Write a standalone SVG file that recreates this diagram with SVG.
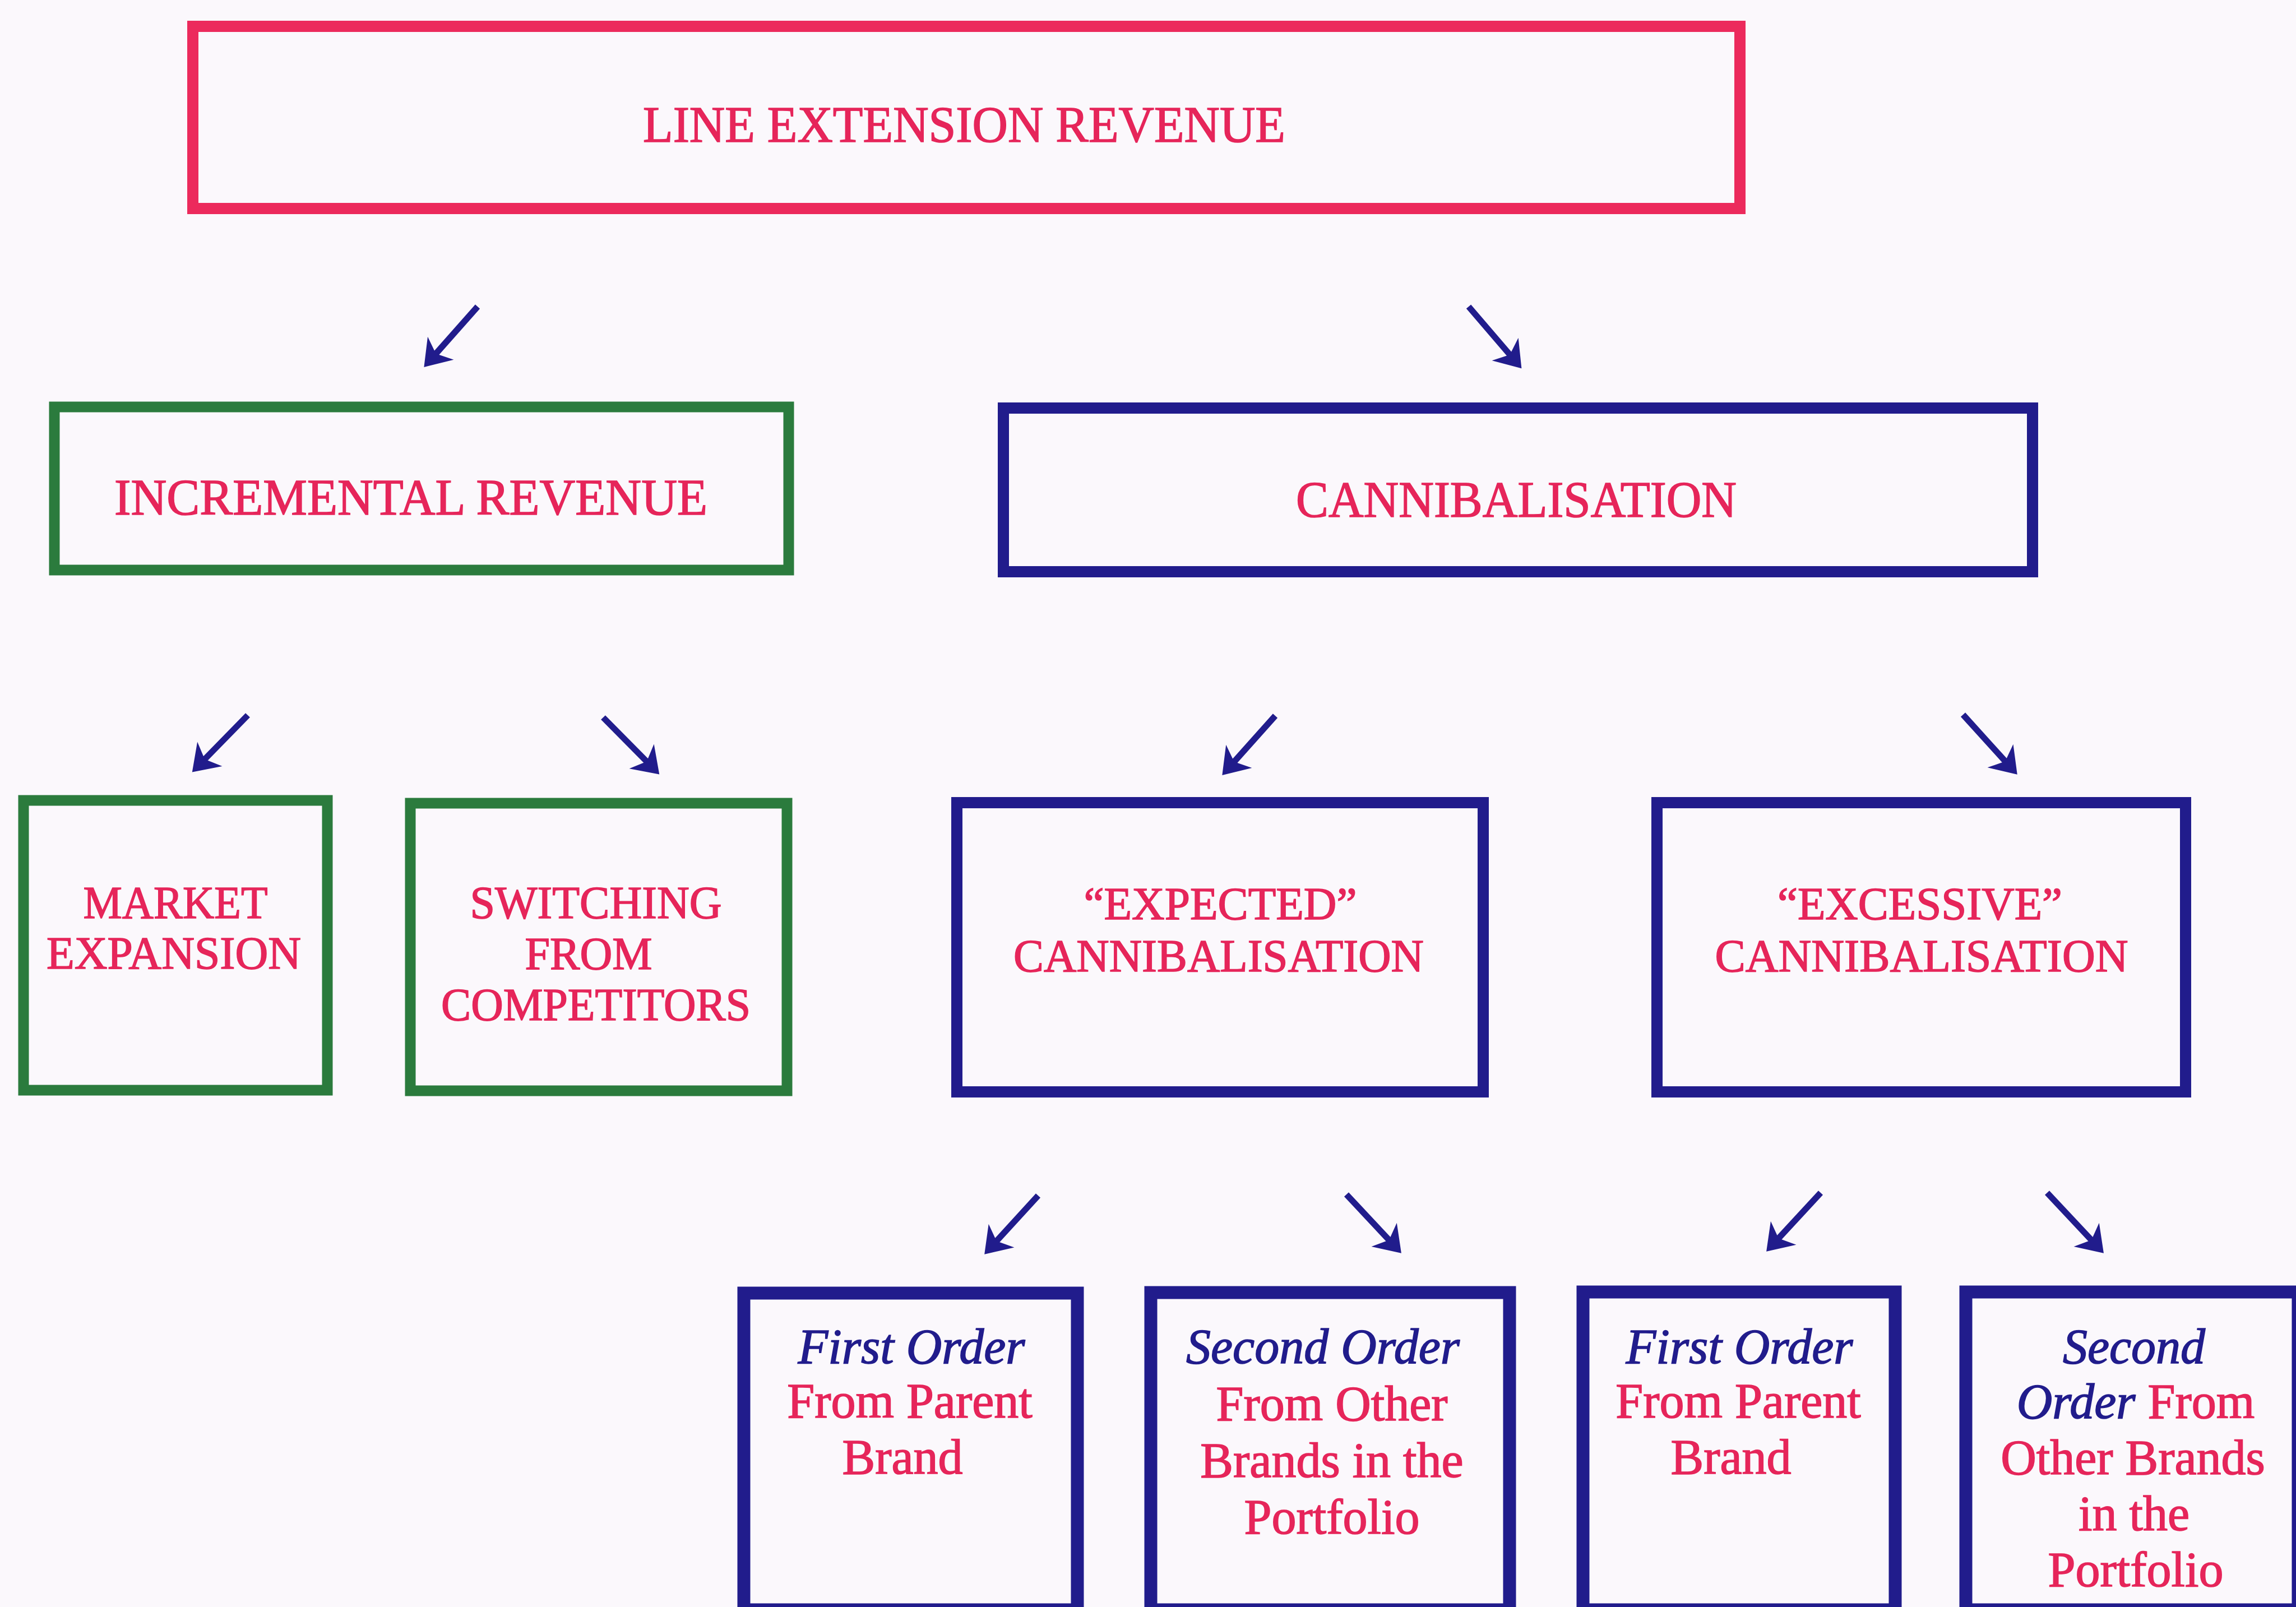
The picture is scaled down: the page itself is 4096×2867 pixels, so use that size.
<svg xmlns="http://www.w3.org/2000/svg" width="4096" height="2867" viewBox="0 0 4096 2867">
<style>
.bg{fill:#fbf8fc}
rect.box{fill:none}
.r{stroke:#ec2a5c;stroke-width:20}
.g{stroke:#2b7b3d;stroke-width:19}
.b{stroke:#211c8c;stroke-width:20}
.b2{stroke:#211c8c;stroke-width:23}
text{font-family:"Liberation Serif","Times New Roman",serif;text-anchor:middle}
.t{fill:#e6255a;stroke:#e6255a;stroke-width:1.6}
.i{fill:#211c8c;stroke:#211c8c;stroke-width:1.6;font-style:italic}
.f1{font-size:92px}
.f2{font-size:82px}
.f3{font-size:88px}
.arr{stroke:#211c8c;stroke-width:11;fill:none;marker-end:url(#ah)}
</style>
<defs>
<marker id="ah" markerUnits="userSpaceOnUse" orient="auto" markerWidth="60" markerHeight="80" refX="0" refY="0" viewBox="-30 -40 60 80" overflow="visible">
<path d="M16,0 L-29,-31 L-16,0 L-29,31 Z" fill="#211c8c"/>
</marker>
</defs>
<rect class="bg" x="0" y="0" width="4096" height="2867"/>

<g id="line-extension-revenue">
<rect class="box r" x="344" y="47" width="2760" height="325"/>
<text class="t f1" x="1720" y="253" textLength="1146" lengthAdjust="spacingAndGlyphs">LINE EXTENSION REVENUE</text>
</g>
<g id="incremental-revenue">
<rect class="box g" x="97" y="726" width="1310" height="291"/>
<text class="t f1" x="733" y="918" textLength="1058" lengthAdjust="spacingAndGlyphs">INCREMENTAL REVENUE</text>
</g>
<g id="cannibalisation">
<rect class="box b" x="1790" y="728" width="1836" height="292"/>
<text class="t f1" x="2705" y="922" textLength="786" lengthAdjust="spacingAndGlyphs">CANNIBALISATION</text>
</g>
<g id="market-expansion">
<rect class="box g" x="42" y="1428" width="542" height="517"/>
<text class="t f2" x="313" y="1638" textLength="329" lengthAdjust="spacingAndGlyphs">MARKET</text>
<text class="t f2" x="310" y="1728" textLength="454" lengthAdjust="spacingAndGlyphs">EXPANSION</text>
</g>
<g id="switching-from-competitors">
<rect class="box g" x="732" y="1433" width="672" height="513"/>
<text class="t f2" x="1063" y="1638" textLength="449" lengthAdjust="spacingAndGlyphs">SWITCHING</text>
<text class="t f2" x="1050" y="1729" textLength="227" lengthAdjust="spacingAndGlyphs">FROM</text>
<text class="t f2" x="1063" y="1820" textLength="552" lengthAdjust="spacingAndGlyphs">COMPETITORS</text>
</g>
<g id="expected-cannibalisation">
<rect class="box b" x="1707" y="1432" width="939" height="516"/>
<text class="t f2" x="2177" y="1640" textLength="487" lengthAdjust="spacingAndGlyphs">“EXPECTED”</text>
<text class="t f2" x="2174" y="1733" textLength="732" lengthAdjust="spacingAndGlyphs">CANNIBALISATION</text>
</g>
<g id="excessive-cannibalisation">
<rect class="box b" x="2956" y="1432" width="943" height="516"/>
<text class="t f2" x="3425" y="1640" textLength="508" lengthAdjust="spacingAndGlyphs">“EXCESSIVE”</text>
<text class="t f2" x="3428" y="1733" textLength="737" lengthAdjust="spacingAndGlyphs">CANNIBALISATION</text>
</g>
<g id="first-order-expected">
<rect class="box b2" x="1327" y="2307" width="595" height="565"/>
<text class="i f3" x="1626" y="2432">First Order</text>
<text class="t f3" x="1623" y="2529">From Parent</text>
<text class="t f3" x="1610" y="2629">Brand</text>
</g>
<g id="second-order-expected">
<rect class="box b2" x="2053" y="2306" width="640" height="566"/>
<text class="i f3" x="2360" y="2432">Second Order</text>
<text class="t f3" x="2376" y="2534">From Other</text>
<text class="t f3" x="2376" y="2635">Brands in the</text>
<text class="t f3" x="2376" y="2736">Portfolio</text>
</g>
<g id="first-order-excessive">
<rect class="box b2" x="2824" y="2305" width="557" height="567"/>
<text class="i f3" x="3103" y="2432">First Order</text>
<text class="t f3" x="3101" y="2529">From Parent</text>
<text class="t f3" x="3088" y="2629">Brand</text>
</g>
<g id="second-order-excessive">
<rect class="box b2" x="3507" y="2305" width="593" height="567"/>
<text class="i f3" x="3807" y="2432">Second</text>
<text class="f3" x="3810" y="2530"><tspan class="i">Order </tspan><tspan class="t">From</tspan></text>
<text class="t f3" x="3805" y="2630">Other Brands</text>
<text class="t f3" x="3807" y="2730">in the</text>
<text class="t f3" x="3810" y="2830">Portfolio</text>
</g>

<g id="connectors">
<line class="arr" x1="852" y1="547" x2="767" y2="643"/>
<line class="arr" x1="2620" y1="547" x2="2704" y2="645"/>
<line class="arr" x1="442" y1="1276" x2="354" y2="1366"/>
<line class="arr" x1="1076" y1="1280" x2="1165" y2="1370"/>
<line class="arr" x1="2275" y1="1277" x2="2191" y2="1371"/>
<line class="arr" x1="3502" y1="1275" x2="3588" y2="1370"/>
<line class="arr" x1="1852" y1="2133" x2="1767" y2="2226"/>
<line class="arr" x1="2402" y1="2131" x2="2489" y2="2224"/>
<line class="arr" x1="3248" y1="2128" x2="3162" y2="2221"/>
<line class="arr" x1="3652" y1="2128" x2="3742" y2="2224"/>
</g>
</svg>
